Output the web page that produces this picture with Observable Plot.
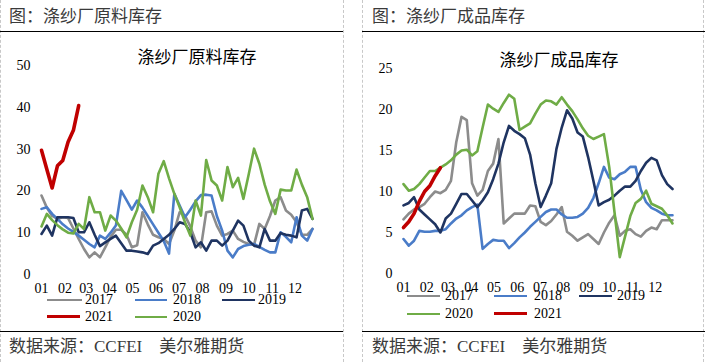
<!DOCTYPE html>
<html><head><meta charset="utf-8">
<script src="https://cdn.jsdelivr.net/npm/d3@7"></script>
<script src="https://cdn.jsdelivr.net/npm/@observablehq/plot@0.6"></script>
<style>
html,body{margin:0;padding:0;background:#fff;}
body{width:705px;height:362px;overflow:hidden;position:relative;font-family:"Liberation Serif","Noto Sans CJK SC",serif;}
.abs{position:absolute;white-space:nowrap;}
.hdr{font-family:"Noto Sans CJK SC",sans-serif;font-size:17px;line-height:17px;color:#3a3a3a;}
.ftr{font-family:"Liberation Serif","Noto Sans CJK SC",serif;font-size:17px;line-height:17px;color:#3a3a3a;}
.ttl{font-family:"Noto Sans CJK SC",sans-serif;font-size:17px;line-height:17px;color:#000;transform:translateX(-50%);}
.hl{height:0;border-top:1px solid #000;}
.vl{width:0;border-left:1px dashed #c8c8c8;}
.lg{font-family:"Liberation Serif",serif;font-size:14px;line-height:14px;color:#000;}
.sw{height:0;}
svg{position:absolute;top:0;}
</style></head><body>
<script>
// ---- tick labels / categories ----
const monthLabels = ["01","02","03","04","05","06","07","08","09","10","11","12"];
const monthStartDay = [0,31,59,90,120,151,181,212,243,273,304,334];
const years = ["2017","2018","2019","2020","2021"];

// ---- 涤纱厂原料库存 (weekly) ----
const raw2017 = [18.9,16,14,13.3,13.7,13.5,11,8.5,6.1,4.1,5.3,4.1,6.5,9,10.7,10.7,9.5,6.5,7,14.9,12,9.5,8.9,8.5,7.3,10.5,14.9,14.1,11.5,8.1,6.5,14.9,15.1,11.7,9.3,9.7,10.5,8.5,7.8,7.3,7.1,12.1,10.9,14,17.7,18.5,15.3,14.3,12.5,9.5,9.5,10.9];
const raw2018 = [15.7,16.1,14.5,13.3,12,11,10.2,9.3,8.3,7.3,6.5,9.3,8.5,10,11.7,20,17.8,15.5,17.7,16,14,12,10,8,5,19.3,16.5,13.7,15.5,17.5,19,19.1,18.9,14,10.5,5.7,4.1,6.1,6.8,7.1,7.3,6.6,5.9,5.3,5.3,10.1,9,7.7,13.7,9.3,8.1,10.9];
const raw2019 = [9.7,11.7,9.3,13.7,13.7,13.7,13.5,10.1,10.1,12.5,9.5,6.8,7.7,8.5,9.3,7.5,5.7,5.7,5.5,5.3,4.9,6.9,7.5,8.5,9.5,10.9,12.5,12.1,10.1,6.5,7.7,5.7,8.1,8.1,6.9,8.1,10.5,12.9,11.7,8.1,6.9,6.5,10.9,8.1,8.1,9.9,9.5,9.3,8.9,15.3,15.7,13.3];
const raw2020 = [11.5,14.5,13,11.8,10.8,10,9.8,12.1,10.9,18.5,14.9,14.9,10.5,14.1,12.9,11,8.9,12.5,15.5,21.3,18.5,14.9,24.1,27.1,23,19.3,16.1,12.5,9.3,17.7,14.1,27.4,22.5,21.3,17.7,25.7,20.9,23.1,18.1,24,30.1,26.5,21.5,17.5,14.5,20.3,20.1,20.1,25.1,21.5,18.5,13.3];
const raw2021 = [29.7,25.2,20.7,26,27.3,31.7,34.5,40.4];

// ---- 涤纱厂成品库存 (weekly) ----
const fin2017 = [6.6,7.3,7.8,8.1,8.5,9.3,10,9.8,10.2,11.3,16,19.1,18.7,11,9.5,10.2,12.5,13.4,16.4,6.1,6.7,7.3,7.3,7.3,8.3,8.2,6.3,5.9,6.4,7.2,8.1,5.1,4.6,4,4.4,4.8,4.2,3.6,5,6.2,7.1,4.6,5.2,5.4,4.8,4.5,5.2,5.6,5.4,6.5,6.5,6.5];
const fin2018 = [4.2,3.4,4,5.2,5.1,5.1,5.2,5.2,5.4,6.1,6.7,7.1,7.7,8.1,8.4,3,3.6,4.1,4,4,3.1,3.7,4.4,5,5.7,6.3,6.9,7.5,7.8,7.8,7.2,6.8,6.8,6.9,7.3,8,9.2,11,13,11.7,11.5,12.1,12.4,13,13,10.2,8.7,8,7.7,7.3,7.1,7.1];
const fin2019 = [8.3,8.6,9.3,7.8,7.2,6.6,6,5,6.7,7.3,8.5,9.7,9.7,8.9,8.1,8.9,9.9,11.5,13.4,16,18,17.4,17,16.5,14.5,11,8.1,9.5,11,15.2,17.8,19.9,18.9,17.2,16.7,14.2,11.3,8.3,8.7,9,9.5,10.1,10.6,10.6,11.3,12.5,13.5,14.1,13.8,12,10.9,10.3];
const fin2020 = [10.9,10.1,10.3,10.9,11.7,12.5,12.5,12.9,13.3,13.8,14.5,15,15.1,14.4,14.9,17.8,20.6,20.1,19.7,20.8,21.8,21.3,17.5,17.9,18.3,19.5,20.6,21.1,21,20.6,21.5,20.6,19.8,18.8,17.7,16.8,16.4,16.7,17,13,7.5,2,4.5,7,8.6,9.1,10.1,8.5,8.2,7.9,7.1,6.1];
const fin2021 = [5.6,6.3,7.3,8.8,10,10.7,11.9,12.9];

// ---- styles (separate from data) ----
const colors = {"2017":"#8c8c8c","2018":"#4a7cc8","2019":"#1f3461","2020":"#6fac46","2021":"#c00000"};
const widths = {"2017":2.6,"2018":2.6,"2019":2.6,"2020":2.6,"2021":3.6};

const monthTicks = monthStartDay.map(d => d / 7);
const tickLabel = new Map(monthTicks.map((t, i) => [t, monthLabels[i]]));

function rowsOf(arrs) {
  const rows = [];
  years.forEach((y, k) => arrs[k].forEach((v, i) => rows.push({year: y, week: i, value: v})));
  return rows;
}

function makeChart(o) {
  const rows = rowsOf(o.arrs);
  const svg = Plot.plot({
    width: o.width, height: 331,
    marginLeft: o.ml, marginRight: o.mr, marginTop: o.mt, marginBottom: o.mb,
    style: {fontFamily: '"Liberation Serif","Noto Sans CJK SC",serif', fontSize: "14px", color: "#000", background: "transparent", overflow: "visible"},
    x: {domain: [0, 51]},
    y: {domain: [0, o.yMax]},
    marks: [
      Plot.axisY({ticks: o.yTicks, tickSize: 0, tickPadding: 11, label: null, fontSize: 14}),
      Plot.axisX({ticks: monthTicks, tickFormat: d => tickLabel.get(d), tickSize: 0, tickPadding: 9, label: null, fontSize: 14}),
      ...o.order.map(y => Plot.line(rows.filter(r => r.year === y), {x: "week", y: "value", stroke: colors[y], strokeWidth: widths[y], strokeLinejoin: "round"}))
    ]
  });
  svg.style.left = o.left + "px";
  document.body.appendChild(svg);
}

makeChart({arrs: [raw2017, raw2018, raw2019, raw2020, raw2021], left: 0, width: 343, ml: 41, mr: 31, mt: 65, mb: 57,
  yMax: 50, yTicks: [0,10,20,30,40,50], order: ["2017","2018","2019","2020","2021"]});
makeChart({arrs: [fin2017, fin2018, fin2019, fin2020, fin2021], left: 352, width: 353, ml: 51, mr: 33, mt: 68, mb: 58,
  yMax: 25, yTicks: [0,5,10,15,20,25], order: ["2017","2018","2019","2020","2021"]});

function el(cls, css, html) {
  const d = document.createElement("div");
  d.className = "abs " + cls;
  Object.assign(d.style, css);
  if (html != null) d.innerHTML = html;
  document.body.appendChild(d);
  return d;
}

// frame lines
el("vl", {left: "0px", top: "0px", height: "362px"});
el("vl", {left: "343px", top: "0px", height: "362px"});
el("vl", {left: "362px", top: "0px", height: "362px"});
el("vl", {left: "703px", top: "0px", height: "362px"});
el("hl", {left: "0px", top: "31px", width: "343px"});
el("hl", {left: "0px", top: "331px", width: "343px"});
el("hl", {left: "362px", top: "31px", width: "343px"});
el("hl", {left: "362px", top: "331px", width: "343px"});

// headers / footers / titles
el("hdr", {left: "9px", top: "6px"}, "图：涤纱厂原料库存");
el("hdr", {left: "372px", top: "6px"}, "图：涤纱厂成品库存");
el("ftr", {left: "9px", top: "338px"}, "数据来源：CCFEI\u3000美尔雅期货");
el("ftr", {left: "372px", top: "338px"}, "数据来源：CCFEI\u3000美尔雅期货");
el("ttl", {left: "197px", top: "47px"}, "涤纱厂原料库存");
el("ttl", {left: "559px", top: "50px"}, "涤纱厂成品库存");

// legends
function legendItem(year, x0, x1, tx, cy) {
  const w = widths[year];
  el("sw", {left: x0 + "px", top: (cy - w / 2) + "px", width: (x1 - x0) + "px", borderTop: w + "px solid " + colors[year]});
  el("lg", {left: tx + "px", top: (cy - 7) + "px"}, year);
}
legendItem("2017", 47, 82, 85, 300);
legendItem("2018", 135, 167, 173, 300);
legendItem("2019", 222, 255, 258, 300);
legendItem("2021", 47, 80, 85, 317);
legendItem("2020", 135, 167, 173, 317);

legendItem("2017", 407, 440, 445, 296);
legendItem("2018", 494, 527, 534, 296);
legendItem("2019", 579, 612, 617, 296);
legendItem("2020", 407, 440, 445, 314);
legendItem("2021", 494, 527, 534, 314);
</script>
</body></html>
